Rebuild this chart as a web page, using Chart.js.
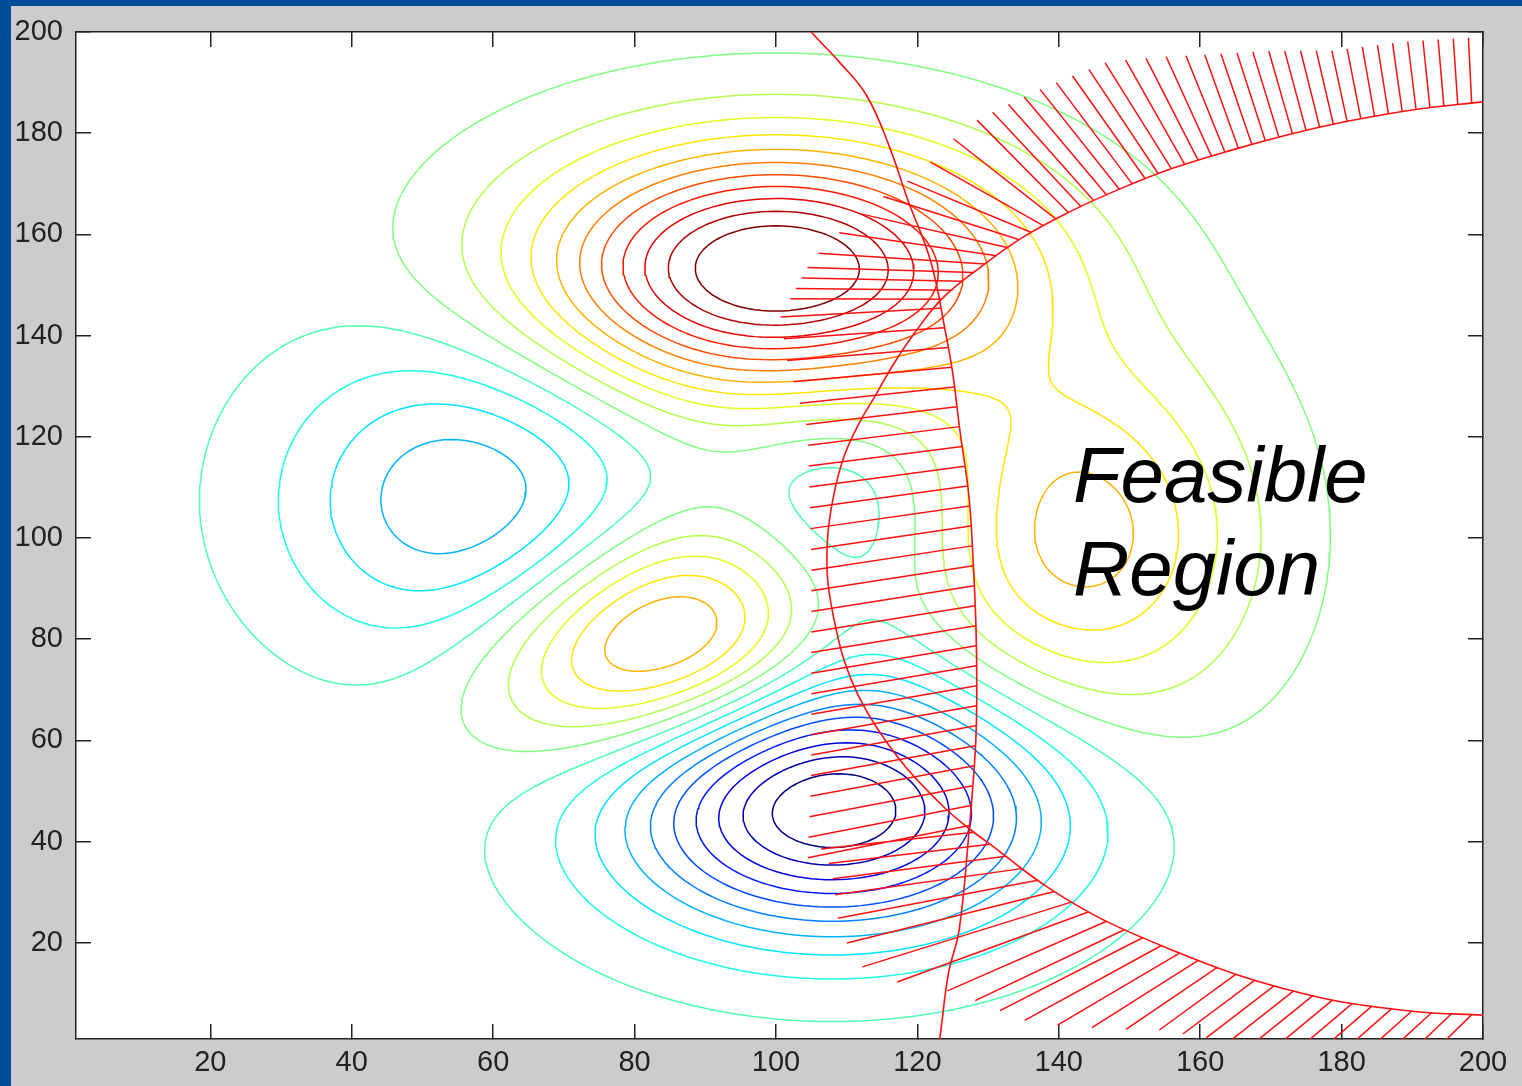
<!DOCTYPE html>
<html>
<head>
<meta charset="utf-8">
<script src="https://cdn.jsdelivr.net/npm/chart.js@4.4.1/dist/chart.umd.min.js"></script>
<style>
html,body{margin:0;padding:0;background:#cccccc;width:1522px;height:1086px;overflow:hidden;position:relative}
#bl{position:absolute;left:0;top:0;width:11px;height:1086px;background:#004c99}
#bt{position:absolute;left:0;top:0;width:1522px;height:6px;background:#004c99}
#wrap{position:absolute;left:0;top:0;width:1522px;height:1086px}
canvas{display:block}
</style>
</head>
<body>
<div id="bl"></div><div id="bt"></div>
<div id="wrap"><canvas id="c" width="1522" height="1086"></canvas></div>
<script>
// ---------------- data ----------------
const X_TICKS = [20, 40, 60, 80, 100, 120, 140, 160, 180, 200];
const Y_TICKS = [20, 40, 60, 80, 100, 120, 140, 160, 180, 200];
const AXIS_MIN = 1;
const AXIS_MAX = 200;

// objective surface: hills / pits seen in the contour picture
const BUMP_CX  = [100, 108, 56, 84, 143, 110];
const BUMP_CY  = [153, 46.4, 107.5, 79.5, 100.4, 100];
const BUMP_AMP = [12, -10.5, -4.4, 6.8, 5, -2.6];
const BUMP_SX  = [23, 21, 18, 18, 16.5, 11.5];
const BUMP_SY  = [17, 17, 21.5, 14, 25, 21];
const BUMP_ROT = [0, 0, 0, 35, 0, 0];

// contour levels
const LEVELS = [-9.5, -8.5, -7.5, -6.5, -5.5, -4.5, -3.5, -2.5, -1.5, -0.5,
                0.5, 1.5, 2.5, 3.5, 4.5, 5.5, 6.5, 7.5, 8.5, 9.5, 10.5];

// constraint 1: near-vertical curve
const CURVE_A_X = [104.3, 105.0, 109.0, 112.8, 116.0, 118.6, 121.9, 124.0, 125.0, 126.0, 127.3, 127.9, 128.3, 128.4, 128.2, 127.2, 125.9, 124.4, 123.2, 123.0];
const CURVE_A_Y = [201.5, 200.0, 194.0, 187.5, 177.5, 167.0, 154.6, 140.5, 132.6, 121.4, 108.1, 95.1, 81.8, 68.6, 58.1, 40.3, 22.5, 14.0, 1.4, 0.0];

// constraint 2: large circle
const CIRCLE_X = [201, 200, 190, 181, 173, 165.3, 156.4, 148.5, 141.3, 135, 129, 123.5, 119.6, 116.6, 114.2, 111.7, 109.6, 108.1, 107.3, 107.3, 108.2, 109.6, 111.6, 114.4, 118.5, 124, 127.4, 131.7, 135, 138.2, 141.6, 147.1, 155.3, 164.6, 172, 180.1, 190.7, 200, 201];
const CIRCLE_Y = [186.3, 186.2, 184.6, 182.4, 179.9, 177.0, 173.2, 168.9, 164.3, 159.5, 153.6, 147.3, 140.5, 134.3, 128.5, 122.5, 116, 108, 100, 92, 84, 76, 69, 62.2, 54.5, 46.5, 42.5, 38.0, 34.4, 31.2, 28.2, 24.0, 19.0, 14.0, 10.9, 8.3, 6.4, 5.7, 5.6];

// annotation
const LABEL_LINES = ['Feasible', 'Region'];
const LABEL_X = 142.0;
const LABEL_Y = [107.1, 88.7];

// ---------------- hatching style tables ----------------
const HA_KEY_Y = [147, 138, 125, 100, 60, 43];
const HA_END_X = [100.5, 101.5, 104.5, 105, 105, 104.5];
const HA_SLOPE = [0.05, 0.08, 0.12, 0.15, 0.18, 0.2];
const HA_STEP = 20;
const HT_KEY_X = [123, 129, 137, 141, 156, 165, 181, 200];
const HT_ANGLE = [0, 2, 25, 45, 58, 70, 78, 88];
const HT_LEN   = [150, 170, 130, 130, 125, 100, 72, 65];
const HT_STEP = 14;
const HB_KEY_X = [127, 131, 135, 138, 141.6, 145, 147, 155, 165, 180, 191, 200];
const HB_ANGLE = [6, 7, 8, 12, 17, 21, 24, 29, 36, 40, 42, 45];
const HB_LEN   = [150, 165, 190, 210, 220, 200, 170, 155, 95, 70, 55, 50];
const HB_STEP = 20;

const RED = '#ff1010';
const AX = '#222222';

// ---------------- helpers ----------------
function jet(t) {
  const c = v => Math.round(255 * Math.max(0, Math.min(1, v)));
  return 'rgb(' + c(1.5 - Math.abs(4 * t - 3)) + ',' + c(1.5 - Math.abs(4 * t - 2)) + ',' + c(1.5 - Math.abs(4 * t - 1)) + ')';
}
function interp(keys, vals, v) {
  const idx = keys.map((k, i) => i).sort((a, b) => keys[a] - keys[b]);
  const K = idx.map(i => keys[i]), V = idx.map(i => vals[i]);
  if (v <= K[0]) return V[0];
  if (v >= K[K.length - 1]) return V[V.length - 1];
  for (let i = 0; i < K.length - 1; i++) {
    if (v >= K[i] && v <= K[i + 1]) {
      const t = (v - K[i]) / (K[i + 1] - K[i]);
      return V[i] + (V[i + 1] - V[i]) * t;
    }
  }
  return V[0];
}
function surface(x, y) {
  let s = 0;
  for (let k = 0; k < BUMP_CX.length; k++) {
    const r = BUMP_ROT[k] * Math.PI / 180;
    const dx = x - BUMP_CX[k], dy = y - BUMP_CY[k];
    const u = dx * Math.cos(r) + dy * Math.sin(r);
    const v = -dx * Math.sin(r) + dy * Math.cos(r);
    s += BUMP_AMP[k] * Math.exp(-0.5 * (u * u / (BUMP_SX[k] * BUMP_SX[k]) + v * v / (BUMP_SY[k] * BUMP_SY[k])));
  }
  return s;
}

const GX = [], GY = [];
for (let v = AXIS_MIN; v <= AXIS_MAX; v += 1) { GX.push(v); GY.push(v); }
const F = GY.map(y => GX.map(x => surface(x, y)));

function contourData(L) {
  const nx = GX.length, ny = GY.length;
  const pt = new Map(), adj = new Map();
  const key = (type, i, j) => (j * nx + i) * 2 + type;
  function ep(type, i, j) {
    const k = key(type, i, j);
    if (!pt.has(k)) {
      const x0 = GX[i], y0 = GY[j], z0 = F[j][i];
      let x1, y1, z1;
      if (type === 0) { x1 = GX[i + 1]; y1 = y0; z1 = F[j][i + 1]; }
      else { x1 = x0; y1 = GY[j + 1]; z1 = F[j + 1][i]; }
      const t = (L - z0) / (z1 - z0);
      pt.set(k, [x0 + (x1 - x0) * t, y0 + (y1 - y0) * t]);
    }
    return k;
  }
  function link(a, b) {
    if (!adj.has(a)) adj.set(a, []);
    if (!adj.has(b)) adj.set(b, []);
    adj.get(a).push(b); adj.get(b).push(a);
  }
  for (let j = 0; j < ny - 1; j++) {
    for (let i = 0; i < nx - 1; i++) {
      const z0 = F[j][i], z1 = F[j][i + 1], z2 = F[j + 1][i + 1], z3 = F[j + 1][i];
      const c = (z0 > L ? 1 : 0) | (z1 > L ? 2 : 0) | (z2 > L ? 4 : 0) | (z3 > L ? 8 : 0);
      if (c === 0 || c === 15) continue;
      const B = () => ep(0, i, j), T = () => ep(0, i, j + 1), Lf = () => ep(1, i, j), R = () => ep(1, i + 1, j);
      const center = (z0 + z1 + z2 + z3) / 4 > L;
      switch (c) {
        case 1: case 14: link(Lf(), B()); break;
        case 2: case 13: link(B(), R()); break;
        case 3: case 12: link(Lf(), R()); break;
        case 4: case 11: link(R(), T()); break;
        case 6: case 9: link(B(), T()); break;
        case 7: case 8: link(Lf(), T()); break;
        case 5:
          if (center) { link(B(), R()); link(T(), Lf()); } else { link(Lf(), B()); link(R(), T()); }
          break;
        case 10:
          if (center) { link(Lf(), B()); link(R(), T()); } else { link(B(), R()); link(T(), Lf()); }
          break;
      }
    }
  }
  const used = new Set();
  const lines = [];
  function trace(start) {
    const line = [pt.get(start)];
    used.add(start);
    let prev = -1, cur = start;
    while (true) {
      const nb = adj.get(cur);
      let nxt = -1;
      for (const n of nb) { if (n !== prev && !used.has(n)) { nxt = n; break; } }
      if (nxt < 0) {
        if (cur !== start && prev !== start && nb.includes(start)) line.push(pt.get(start));
        break;
      }
      line.push(pt.get(nxt)); used.add(nxt); prev = cur; cur = nxt;
    }
    return line;
  }
  for (const [k, nb] of adj) if (nb.length === 1 && !used.has(k)) lines.push(trace(k));
  for (const [k] of adj) if (!used.has(k)) lines.push(trace(k));
  const out = [];
  lines.forEach(line => {
    line.forEach(p => out.push({ x: p[0], y: p[1] }));
    out.push({ x: line[line.length - 1][0], y: null });
  });
  return out;
}

// ---------------- datasets ----------------
const LMIN = Math.min(...LEVELS), LMAX = Math.max(...LEVELS);
const datasets = [];
datasets.push({ label: 'hatch', data: [], borderColor: RED, borderWidth: 1.5, tension: 0, order: 0 });
datasets.push({ label: 'curveA', data: CURVE_A_X.map((x, i) => ({ x: x, y: CURVE_A_Y[i] })), borderColor: RED, borderWidth: 1.6, tension: 0.4, order: 0 });
datasets.push({ label: 'circle', data: CIRCLE_X.map((x, i) => ({ x: x, y: CIRCLE_Y[i] })), borderColor: RED, borderWidth: 1.6, tension: 0.4, order: 0 });
LEVELS.forEach(L => {
  datasets.push({ label: 'level ' + L, data: contourData(L), borderColor: jet((L - LMIN) / (LMAX - LMIN)), borderWidth: 1.5, tension: 0, order: 1 });
});

const bgPlugin = {
  id: 'bg',
  beforeDraw(chart) {
    const a = chart.chartArea, ctx = chart.ctx;
    ctx.save(); ctx.fillStyle = '#ffffff'; ctx.fillRect(a.left, a.top, a.right - a.left, a.bottom - a.top); ctx.restore();
  }
};
const labelPlugin = {
  id: 'feasibleLabel',
  afterDatasetsDraw(chart) {
    const ctx = chart.ctx, xs = chart.scales.x, ys = chart.scales.y;
    ctx.save();
    ctx.font = 'italic 78px "Liberation Sans", Arial, sans-serif';
    ctx.fillStyle = '#000000';
    ctx.textBaseline = 'alphabetic';
    ctx.textAlign = 'left';
    LABEL_LINES.forEach((t, i) => ctx.fillText(t, xs.getPixelForValue(LABEL_X), ys.getPixelForValue(LABEL_Y[i])));
    ctx.restore();
  }
};

const tickFont = { family: '"Liberation Sans", Arial, sans-serif', size: 29 };
function axisOpts(pos, ticks, size, showLabels, pad) {
  const o = {
    type: 'linear', position: pos, min: AXIS_MIN, max: AXIS_MAX, bounds: 'data',
    afterBuildTicks: s => { s.ticks = ticks.map(v => ({ value: v })); },
    grid: { drawOnChartArea: false, drawTicks: true, tickLength: -15, color: AX, lineWidth: 1.5 },
    border: { display: true, color: AX, width: 1.5 },
    ticks: { display: showLabels, font: tickFont, color: AX, padding: pad, maxRotation: 0, autoSkip: false }
  };
  o.afterFit = s => {
    if (pos === 'top' || pos === 'bottom') s.height = size; else s.width = size;
    s.paddingTop = 0; s.paddingBottom = 0; s.paddingLeft = 0; s.paddingRight = 0;
  };
  if (pos === 'top') o.axis = 'x';
  if (pos === 'right') o.axis = 'y';
  return o;
}

const chart = new Chart(document.getElementById('c'), {
  type: 'line',
  data: { datasets: datasets },
  options: {
    responsive: false, animation: false, devicePixelRatio: 1, events: [],
    layout: { padding: 0 },
    plugins: { legend: { display: false }, tooltip: { enabled: false } },
    elements: { point: { radius: 0, hoverRadius: 0 }, line: { fill: false, borderJoinStyle: 'round' } },
    scales: {
      x: axisOpts('bottom', X_TICKS, 47, true, 22),
      x2: axisOpts('top', X_TICKS, 32, false, 0),
      y: axisOpts('left', Y_TICKS, 76, true, 28),
      y2: axisOpts('right', Y_TICKS, 39, false, 0)
    }
  },
  plugins: [bgPlugin, labelPlugin]
});

// ---------------- hatching from the constraint curves ----------------
function buildHatches() {
  const xs = chart.scales.x, ys = chart.scales.y;
  const P = (x, y) => [xs.getPixelForValue(x), ys.getPixelForValue(y)];
  const D = (px, py) => ({ x: xs.getValueForPixel(px), y: ys.getValueForPixel(py) });
  const xAtY = (X, Y, y) => {
    for (let i = 0; i < Y.length - 1; i++) {
      if ((y <= Y[i] && y >= Y[i + 1])) { const t = (y - Y[i]) / (Y[i + 1] - Y[i]); return X[i] + (X[i + 1] - X[i]) * t; }
    }
    return NaN;
  };
  let yTop = null, yBot = null, prevSign = null;
  for (let y = 199; y >= 2; y -= 0.02) {
    const d = xAtY(CURVE_A_X, CURVE_A_Y, y) - xAtY(CIRCLE_X, CIRCLE_Y, y);
    const s = d > 0;
    if (prevSign !== null && s !== prevSign) { if (s) yTop = y; else yBot = y; }
    prevSign = s;
  }
  function walk(poly, step, off) {
    const out = [];
    let need = off;
    for (let i = 0; i < poly.length - 1; i++) {
      const [x0, y0] = poly[i], [x1, y1] = poly[i + 1];
      const L = Math.hypot(x1 - x0, y1 - y0);
      let d = need;
      while (d <= L) { const t = d / L; out.push([x0 + (x1 - x0) * t, y0 + (y1 - y0) * t]); d += step; }
      need = d - L;
    }
    return out;
  }
  const segs = [];
  const push = (a, b) => { segs.push(D(a[0], a[1]), D(b[0], b[1]), { x: xs.getValueForPixel(b[0]), y: null }); };

  const aPoly = [P(xAtY(CURVE_A_X, CURVE_A_Y, yTop), yTop)];
  CURVE_A_Y.forEach((y, i) => { if (y < yTop && y > yBot) aPoly.push(P(CURVE_A_X[i], y)); });
  aPoly.push(P(xAtY(CURVE_A_X, CURVE_A_Y, yBot), yBot));
  walk(aPoly, HA_STEP, 6).forEach(a => {
    const d = D(a[0], a[1]);
    const ex = xs.getPixelForValue(interp(HA_KEY_Y, HA_END_X, d.y));
    const dx = a[0] - ex;
    push(a, [ex, a[1] + dx * interp(HA_KEY_Y, HA_SLOPE, d.y)]);
  });

  const tPoly = [P(xAtY(CIRCLE_X, CIRCLE_Y, yTop), yTop)];
  for (let i = CIRCLE_Y.length - 1; i >= 0; i--) if (CIRCLE_Y[i] > yTop) tPoly.push(P(CIRCLE_X[i], CIRCLE_Y[i]));
  walk(tPoly, HT_STEP, 4).forEach(a => {
    const d = D(a[0], a[1]);
    if (d.x > AXIS_MAX) return;
    const ang = interp(HT_KEY_X, HT_ANGLE, d.x) * Math.PI / 180, len = interp(HT_KEY_X, HT_LEN, d.x);
    push(a, [a[0] - len * Math.cos(ang), a[1] - len * Math.sin(ang)]);
  });

  const bPoly = [P(xAtY(CIRCLE_X, CIRCLE_Y, yBot), yBot)];
  CIRCLE_Y.forEach((y, i) => { if (y < yBot) bPoly.push(P(CIRCLE_X[i], y)); });
  walk(bPoly, HB_STEP, 6).forEach(a => {
    const d = D(a[0], a[1]);
    if (d.x > AXIS_MAX) return;
    const ang = interp(HB_KEY_X, HB_ANGLE, d.x) * Math.PI / 180, len = interp(HB_KEY_X, HB_LEN, d.x);
    push(a, [a[0] - len * Math.cos(ang), a[1] + len * Math.sin(ang)]);
  });
  chart.data.datasets[0].data = segs;
  chart.update('none');
}
buildHatches();
</script>
</body>
</html>
